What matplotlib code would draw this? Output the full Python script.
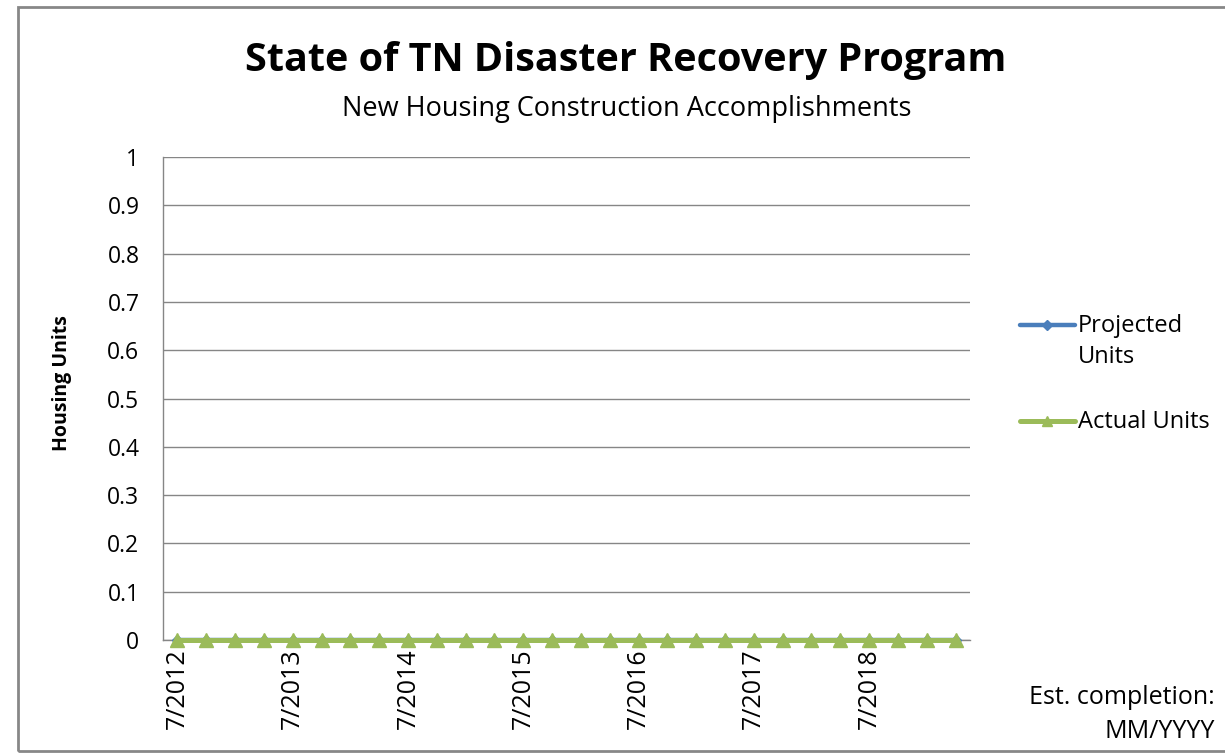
import matplotlib
matplotlib.use("Agg")
import matplotlib.pyplot as plt
from matplotlib.patches import Rectangle
from matplotlib.lines import Line2D

plt.rcParams['font.family'] = ['Open Sans', 'DejaVu Sans']

# Data
categories = [
    "7/2012", "10/2012", "1/2013", "4/2013",
    "7/2013", "10/2013", "1/2014", "4/2014",
    "7/2014", "10/2014", "1/2015", "4/2015",
    "7/2015", "10/2015", "1/2016", "4/2016",
    "7/2016", "10/2016", "1/2017", "4/2017",
    "7/2017", "10/2017", "1/2018", "4/2018",
    "7/2018", "10/2018", "1/2019", "4/2019",
]
projected_units = [0, 0, 0, 0, 0, 0, 0, 0, 0, 0, 0, 0, 0, 0,
                   0, 0, 0, 0, 0, 0, 0, 0, 0, 0, 0, 0, 0, 0]
actual_units = [0, 0, 0, 0, 0, 0, 0, 0, 0, 0, 0, 0, 0, 0,
                0, 0, 0, 0, 0, 0, 0, 0, 0, 0, 0, 0, 0, 0]
y_ticks = [0, 0.1, 0.2, 0.3, 0.4, 0.5, 0.6, 0.7, 0.8, 0.9, 1]
y_tick_labels = ["0", "0.1", "0.2", "0.3", "0.4", "0.5", "0.6", "0.7", "0.8", "0.9", "1"]
series_names = ["Projected\nUnits", "Actual Units"]

BLUE = "#4A7EBB"
GREEN = "#9BBB59"
GRID = "#868686"

W, H = 1225, 753
fig = plt.figure(figsize=(W / 100, H / 100), dpi=100)


def fx(px):
    return px / W


def fy(py):
    return 1 - py / H


# Figure border
fig.patches.append(Rectangle((fx(18), fy(751)), fx(1300) - fx(18), fy(7) - fy(751),
                             transform=fig.transFigure, fill=False,
                             edgecolor="#878787", linewidth=2, clip_on=False))

ax = fig.add_axes([fx(163), fy(640), fx(970) - fx(163), fy(157) - fy(640)])

x = list(range(len(categories)))
ax.plot(x, projected_units, color=BLUE, linewidth=3.2, marker="D",
        markersize=5, markerfacecolor=BLUE, markeredgecolor=BLUE,
        clip_on=False, zorder=3)
ax.plot(x, actual_units, color=GREEN, linewidth=3.6, marker="^",
        markersize=9.5, markerfacecolor=GREEN, markeredgecolor=GREEN,
        clip_on=False, zorder=4)

ax.set_xlim(-0.5, len(categories) - 0.5)
ax.set_ylim(0, 1)
ax.set_yticks(y_ticks)
ax.set_yticklabels(y_tick_labels, fontsize=16.5)
ax.set_xticks(x[::4])
ax.set_xticklabels(categories[::4], rotation=90, fontsize=18)
ax.tick_params(axis="y", length=0, pad=17)
ax.tick_params(axis="x", length=0, pad=6)
ax.yaxis.grid(True, color=GRID, linewidth=1)
ax.set_axisbelow(True)
for s in ["top", "right"]:
    ax.spines[s].set_visible(False)
for s in ["left", "bottom"]:
    ax.spines[s].set_color(GRID)
    ax.spines[s].set_linewidth(1)

fig.text(fx(62), fy(383), "Housing Units", rotation=90, fontsize=14,
         fontweight="bold", ha="center", va="center")

fig.text(fx(626), fy(60), "State of TN Disaster Recovery Program",
         fontsize=28.5, fontweight="bold", ha="center", va="center")
fig.text(fx(627), fy(109), "New Housing Construction Accomplishments",
         fontsize=19.5, ha="center", va="center")

# Legend (drawn manually, handle aligned with first text line)
legend_rows = [(325, BLUE, "D", 5, 3.2, series_names[0]),
               (421, GREEN, "^", 7.5, 3.6, series_names[1])]
for ypx, col, mk, ms, lw, label in legend_rows:
    fig.add_artist(Line2D([fx(1020), fx(1075)], [fy(ypx), fy(ypx)],
                          transform=fig.transFigure, color=col, linewidth=lw,
                          solid_capstyle="round"))
    fig.add_artist(Line2D([fx(1047)], [fy(ypx)], transform=fig.transFigure,
                          color=col, marker=mk, markersize=ms, linestyle="none"))
    fig.text(fx(1078), fy(ypx - 11), label, fontsize=17, ha="left", va="top",
             linespacing=1.4)

fig.text(fx(1215), fy(698), "Est. completion:", fontsize=18, ha="right", va="center")
fig.text(fx(1215), fy(731), "MM/YYYY", fontsize=18, ha="right", va="center")

fig.savefig("out.png", dpi=100)
